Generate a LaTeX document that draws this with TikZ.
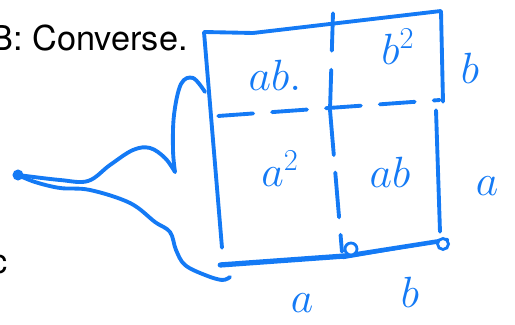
\documentclass[tikz,border=0pt]{standalone}
\usepackage{fontspec}
\usepackage{tikz-network}
\newfontfamily\headfont{TeX Gyre Heros}
\definecolor{inkblue}{RGB}{20,122,245}
\tikzset{
  pen/.style={draw=inkblue, line width=2.2pt, line cap=round, line join=round},
  hand/.style={text=inkblue, inner sep=0pt, font=\fontsize{26}{26}\selectfont},
  handbig/.style={hand, font=\fontsize{32}{32}\selectfont},
}
\begin{document}
\begin{tikzpicture}
\useasboundingbox (0,0) rectangle (10.3,6.5);

\SetVertexStyle[MinSize=0.01, LineWidth=1.6pt, FillColor=white, LineColor=inkblue, InnerSep=0pt, OuterSep=0pt]
\SetEdgeStyle[Color=inkblue, LineWidth=2.2pt]

\Vertex[x=4.08,y=5.86,size=0.01,Pseudo]{TL}
\Vertex[x=5.06,y=5.84,size=0.01,Pseudo]{TK}
\Vertex[x=8.82,y=6.28,size=0.01,Pseudo]{TR}
\Vertex[x=8.86,y=4.46,size=0.01,Pseudo]{RA}
\Vertex[x=8.72,y=4.30,size=0.01,Pseudo]{RB}
\Vertex[x=8.80,y=1.86,size=0.01,Pseudo]{RC}
\Vertex[x=4.44,y=1.54,size=0.01,Pseudo]{BL}
\Vertex[x=4.40,y=1.20,size=0.01,Pseudo]{BA}
\Vertex[x=6.90,y=1.38,size=0.01,Pseudo]{BB}
\Vertex[x=6.86,y=1.34,size=0.01,Pseudo]{BC}
\Vertex[x=8.94,y=1.70,size=0.01,Pseudo]{BD}
\Vertex[x=6.66,y=6.24,size=0.01,Pseudo]{MA}
\Vertex[x=6.60,y=4.30,size=0.01,Pseudo]{MB}
\Vertex[x=6.84,y=1.46,size=0.01,Pseudo]{MC}
\Vertex[x=4.36,y=4.18,size=0.01,Pseudo]{HA}
\Vertex[x=8.80,y=4.50,size=0.01,Pseudo]{HB}
\Vertex[x=4.10,y=4.66,size=0.01,Pseudo]{CS}
\Vertex[x=3.50,y=3.06,size=0.01,Pseudo]{CU}
\Vertex[x=4.60,y=0.96,size=0.01,Pseudo]{CE}

\Edge[style={line cap=round}](TL)(TK)
\Edge[style={line cap=round}](TK)(TR)
\Edge[style={line cap=round}](TR)(RA)
\Edge[style={line cap=round}](RB)(RC)
\Edge[style={line cap=round}](TL)(BL)
\Edge[style={line cap=round, line width=3pt}](BA)(BB)
\Edge[style={line cap=round, line width=2.6pt}](BB)(BD)
\Edge[style={line cap=round, line width=1.4pt}](BC)(BD)
\Edge[style={line cap=round, dash pattern=on 0.75cm off 0.38cm}](MA)(MB)
\Edge[style={line cap=round, dash pattern=on 0.9cm off 0.35cm}](MB)(MC)
\Edge[style={line cap=round, dash pattern=on 0.7cm off 0.38cm}](HA)(HB)

\Vertex[x=7.02,y=1.52,size=0.24,color=white]{LA}
\Vertex[x=8.86,y=1.62,size=0.22,color=white]{LB}
\Vertex[x=0.36,y=3.00,size=0.16,color=inkblue]{TIP}

\draw[pen] plot[smooth, tension=0.6] coordinates {(CS) (3.86,4.94) (3.62,4.82) (3.48,4.20) (3.46,3.50) (CU)};
\draw[pen] plot[smooth, tension=0.6] coordinates {(CU) (3.30,3.34) (3.00,3.54) (2.66,3.50) (2.20,3.20) (1.76,2.88) (1.20,2.90) (TIP)};
\draw[pen] plot[smooth, tension=0.6] coordinates {(TIP) (0.70,2.86) (1.20,2.74) (1.80,2.70) (2.60,2.44) (3.10,2.06) (3.40,1.86) (3.52,1.50) (3.70,1.20) (4.10,1.00) (4.44,0.90) (CE)};

\node[hand] (ab1) at (5.50,5.00) {$ab.$};
\node[hand] (bsq) at (7.96,5.56) {$b^2$};
\node[hand] (asq) at (5.60,3.12) {$a^2$};
\node[hand] (ab2) at (7.80,3.06) {$ab$};
\node[handbig] (sb) at (9.40,5.14) {$b$};
\node[handbig] (sa) at (9.74,2.78) {$a$};
\node[handbig] (ba) at (6.04,0.44) {$a$};
\node[handbig] (bb) at (8.20,0.66) {$b$};

\node[anchor=base east, inner sep=0pt, font=\headfont\fontsize{19.5}{23}\selectfont] (head) at (3.76,5.48) {B: Converse.};
\node[anchor=base east, inner sep=0pt, font=\headfont\fontsize{19.5}{23}\selectfont] (lc) at (0.16,1.02) {c};

\end{tikzpicture}
\end{document}
